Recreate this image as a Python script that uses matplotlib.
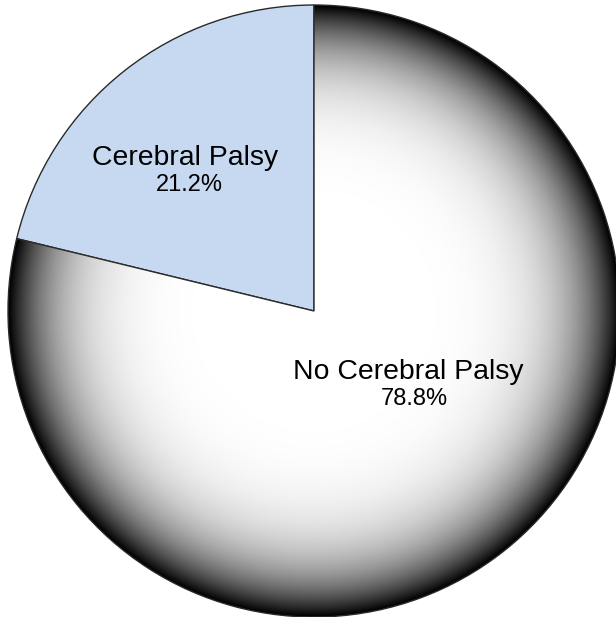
import numpy as np
import matplotlib
matplotlib.use('Agg')
import matplotlib.pyplot as plt

# data
labels = ['Cerebral Palsy', 'No Cerebral Palsy']
values = [21.2, 78.8]
pct_text = ['21.2%', '78.8%']
slice_color = '#c6d9f0'

W, H = 616, 617
fig = plt.figure(figsize=(W / 100, H / 100), dpi=100)
ax = fig.add_axes([0, 0, 1, 1])

cx, cy, r = 314, H - 311, 306

wedges, _ = ax.pie(values, startangle=90, counterclock=True, center=(cx, cy),
                   radius=r, colors=[slice_color, 'white'],
                   wedgeprops=dict(edgecolor='#2a2a2a', linewidth=1.0))

# radial grey gradient for the big slice (white centre, black rim)
n = 600
xs = np.linspace(cx - r, cx + r, n)
ys = np.linspace(cy - r, cy + r, n)
X, Y = np.meshgrid(xs, ys)
t = np.clip(np.hypot(X - cx, Y - cy) / r, 0, 1)
shade = 1 - t ** 6
img = ax.imshow(shade, cmap='gray', vmin=0, vmax=1, origin='lower',
                extent=(cx - r, cx + r, cy - r, cy + r), zorder=1.5,
                interpolation='bilinear')
img.set_clip_path(wedges[1])
wedges[1].set_facecolor('none')
wedges[1].set_zorder(2)

ax.set_xlim(0, W)
ax.set_ylim(0, H)
ax.set_aspect('equal')
ax.axis('off')

font = dict(family='Liberation Sans', color='black', ha='center', va='center')
ax.text(185, H - 158, labels[0], fontsize=20.4, **font)
ax.text(189, H - 185, pct_text[0], fontsize=17, **font)
ax.text(408, H - 372, labels[1], fontsize=20.4, **font)
ax.text(414, H - 399, pct_text[1], fontsize=17, **font)

fig.savefig('out.png', dpi=100, facecolor='white')
